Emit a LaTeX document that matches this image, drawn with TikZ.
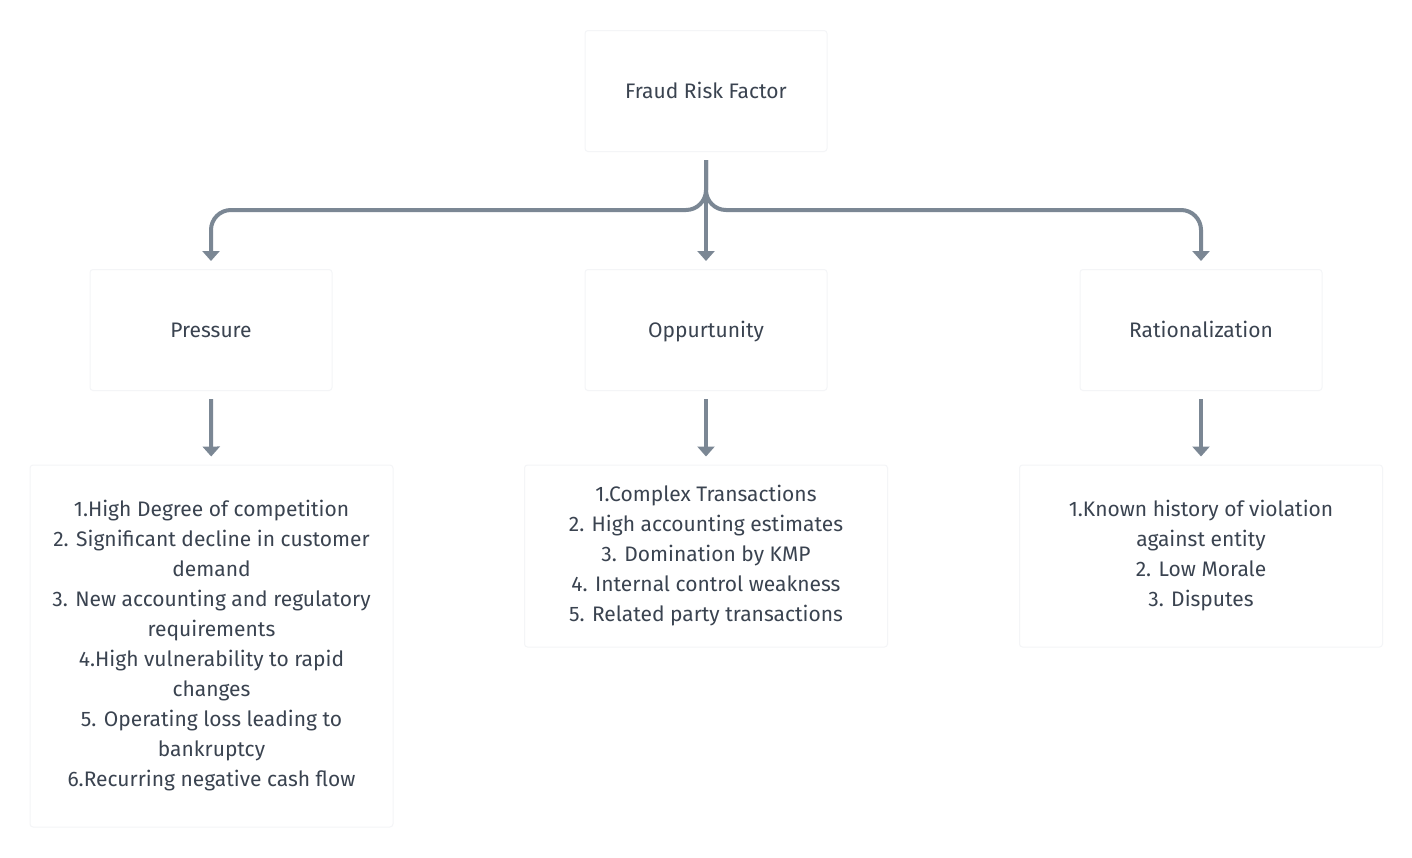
\documentclass[tikz,border=0pt]{standalone}
\usepackage{fontspec}
\setmainfont{Fira Sans}
\usetikzlibrary{arrows.meta}
\definecolor{txt}{HTML}{3A4350}
\definecolor{ln}{HTML}{7B8794}
\definecolor{bd}{HTML}{F4F5F7}
\begin{document}
\begin{tikzpicture}[x=1pt,y=-1pt,
  box/.style={draw=bd, line width=1pt, fill=white, rounded corners=3pt, minimum width=242pt, minimum height=121pt, align=center, text=txt, font=\fontsize{21}{30}\selectfont, inner sep=0pt},
  single/.style={box, text height=19pt, text depth=4pt},
  listbox/.style={box, minimum width=363pt},
  conn/.style={draw=ln, line width=4pt, shorten <=8pt, shorten >=8pt, -{Triangle[length=10pt,width=17pt]}}]
\useasboundingbox[fill=white] (0,0) rectangle (1412,857);
\node[single] (frf) at (706,91) {Fraud Risk Factor};
\node[single] (pres) at (211,330) {Pressure};
\node[single] (opp) at (706,330) {Oppurtunity};
\node[single] (rat) at (1201,330) {Rationalization};
\node[listbox, minimum height=362pt] (plist) at (211.5,646) {1.High Degree of competition\\2. Significant decline in customer\\demand\\3. New accounting and regulatory\\requirements\\4.High vulnerability to rapid\\changes\\5. Operating loss leading to\\bankruptcy\\6.Recurring negative cash flow};
\node[listbox, minimum height=182pt] (olist) at (706,556) {1.Complex Transactions\\2. High accounting estimates\\3. Domination by KMP\\4. Internal control weakness\\5. Related party transactions};
\node[listbox, minimum height=182pt] (rlist) at (1201,556) {1.Known history of violation\\against entity\\2. Low Morale\\3. Disputes};
\draw[conn] (frf) -- (opp);
\draw[conn, rounded corners=20pt] (frf.south) |- ([yshift=59pt]pres.north) -- (pres.north);
\draw[conn, rounded corners=20pt] (frf.south) |- ([yshift=59pt]rat.north) -- (rat.north);
\draw[conn] (pres) -- (plist);
\draw[conn] (opp) -- (olist);
\draw[conn] (rat) -- (rlist);
\end{tikzpicture}
\end{document}
